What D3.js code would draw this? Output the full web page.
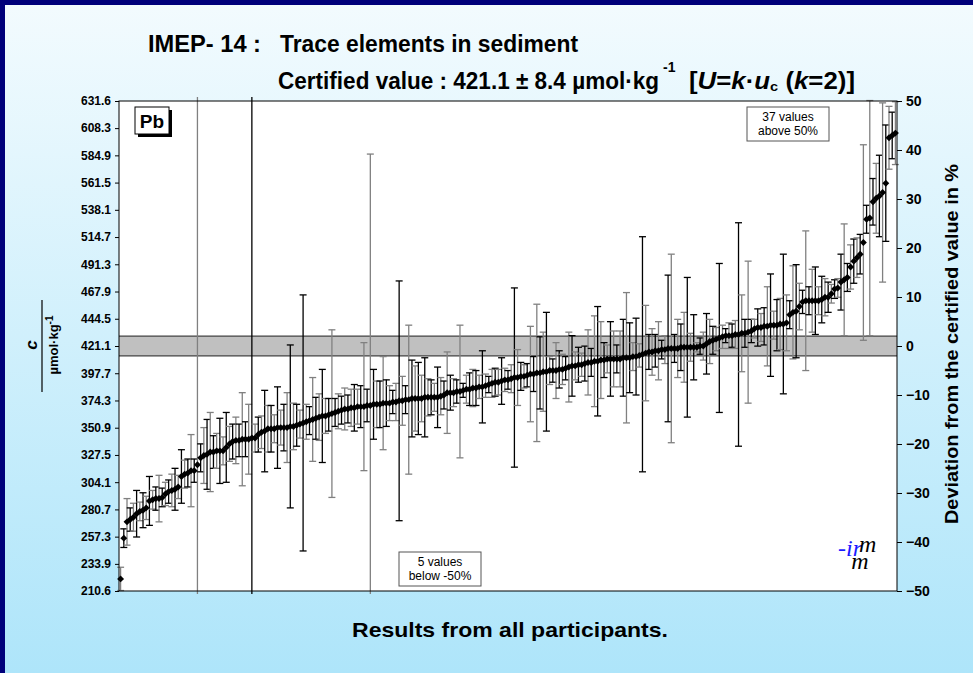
<!DOCTYPE html>
<html>
<head>
<meta charset="utf-8">
<script src="https://cdn.jsdelivr.net/npm/d3@7"></script>
<style>
  body { margin: 0; padding: 0; overflow: hidden; }
  text { font-family: "Liberation Sans", Arial, sans-serif; }
  .axis text { font-weight: bold; }
</style>
</head>
<body>
<div id="vis_container"></div>
<script>
// Certified value and expanded uncertainty
var certified = 421.1;
var certU = 8.4;

// Participant results (sorted), umol/kg
var results = [
  221, 256, 270, 272, 274, 277, 279, 280, 282, 288,
  289, 290, 290, 291, 294, 296, 297, 298, 300, 309,
  311, 312, 314, 314, 319, 325, 327, 328, 330, 330,
  331, 331, 331, 334, 337, 339, 340, 340, 341, 341,
  341, 342, 342, 345, 347, 348, 350, 350, 350, 351,
  351, 351, 351, 352, 352, 353, 354, 355, 356, 357,
  358, 359, 360, 361, 361, 362, 363, 364, 365, 366,
  367, 367, 368, 368, 369, 369, 369, 370, 370, 371,
  371, 371, 372, 372, 372, 373, 373, 374, 374, 375,
  375, 376, 376, 376, 376, 377, 377, 377, 377, 377,
  378, 379, 381, 381, 381, 382, 382, 383, 384, 384,
  385, 385, 386, 386, 387, 388, 389, 390, 390, 391,
  392, 392, 393, 394, 394, 395, 395, 396, 397, 397,
  398, 398, 399, 399, 400, 400, 400, 401, 401, 402,
  403, 404, 404, 405, 405, 406, 407, 407, 408, 408,
  409, 409, 410, 410, 410, 410, 410, 411, 411, 411,
  412, 412, 413, 414, 415, 416, 416, 417, 417, 418,
  418, 419, 419, 419, 419, 420, 420, 420, 420, 420,
  420, 421, 421, 423, 425, 426, 427, 428, 429, 430,
  430, 430, 431, 431, 432, 432, 433, 434, 436, 437,
  437, 438, 438, 439, 439, 439, 440, 440, 441, 448,
  450, 451, 455, 459, 460, 460, 460, 460, 460, 461,
  463, 463, 466, 470, 471, 476, 478, 480, 489, 494,
  497, 500, 510, 530, 531, 545, 548, 550, 553, 561,
  600, 602, 604
];

// Half width of each error bar, umol/kg
var uncert = [
  10, 8, 20, 10, 12, 20, 8, 15, 10, 21,
  8, 10, 20, 8, 10, 10, 14, 18, 10, 23,
  12, 12, 31, 10, 450, 12, 24, 30, 34, 14,
  15, 28, 12, 30, 15, 15, 20, 14, 40, 15,
  30, 450, 12, 15, 14, 35, 20, 20, 12, 35,
  15, 20, 30, 70, 20, 18, 12, 110, 15, 12,
  36, 18, 20, 40, 15, 14, 72, 12, 15, 12,
  18, 12, 16, 20, 15, 18, 55, 14, 216, 30,
  20, 20, 40, 20, 15, 10, 16, 103, 21, 12,
  64, 33, 28, 31, 20, 34, 16, 15, 12, 26,
  16, 12, 35, 15, 12, 10, 57, 6, 12, 14,
  16, 15, 10, 31, 10, 7, 12, 12, 11, 20,
  10, 8, 12, 77, 24, 12, 10, 10, 41, 15,
  59, 31, 34, 51, 12, 10, 24, 16, 13, 10,
  30, 26, 12, 15, 10, 15, 28, 12, 39, 47,
  33, 15, 12, 32, 24, 12, 24, 33, 56, 30,
  12, 33, 10, 101, 41, 15, 20, 14, 25, 8,
  12, 63, 81, 12, 25, 20, 30, 60, 12, 28,
  4, 7, 12, 26, 19, 12, 10, 64, 10, 6,
  11, 10, 12, 96, 33, 12, 61, 10, 8, 16,
  12, 16, 34, 44, 12, 22, 22, 60, 24, 12,
  40, 40, 20, 10, 60, 12, 27, 29, 12, 20,
  16, 13, 8, 8, 8, 24, 48, 12, 19, 19,
  17, 17, 84, 12, 101, 20, 30, 35, 77, 50,
  27, 20, 27
];

var leftTicks = ["631.6", "608.3", "584.9", "561.5", "538.1", "514.7", "491.3",
  "467.9", "444.5", "421.1", "397.7", "374.3", "350.9", "327.5", "304.1",
  "280.7", "257.3", "233.9", "210.6"];
var rightTicks = [50, 40, 30, 20, 10, 0, -10, -20, -30, -40, -50];

var width = 973, height = 673;
var plot = {left: 119, right: 897, top: 101, bottom: 591};

var svg = d3.select("#vis_container")
    .append("svg")
    .attr("width", width)
    .attr("height", height);

var defs = svg.append("defs");
var grad = defs.append("linearGradient")
    .attr("id", "bg")
    .attr("x1", 0).attr("y1", 0).attr("x2", 0).attr("y2", 1);
grad.append("stop").attr("offset", "0%").attr("stop-color", "#f3fbfe");
grad.append("stop").attr("offset", "100%").attr("stop-color", "#aee5fa");

defs.append("clipPath").attr("id", "plotclip")
  .append("rect")
    .attr("x", plot.left - 6).attr("y", plot.top - 4)
    .attr("width", plot.right - plot.left + 12)
    .attr("height", plot.bottom - plot.top + 7);

// background + frame
svg.append("rect")
    .attr("x", 0).attr("y", 0)
    .attr("width", width).attr("height", height)
    .attr("fill", "url(#bg)");
svg.append("rect")
    .attr("x", 2.5).attr("y", 2.5)
    .attr("width", width + 10).attr("height", height + 10)
    .attr("fill", "none")
    .attr("stroke", "#00007a")
    .attr("stroke-width", 5);

// scales
var y = d3.scaleLinear()
    .domain([210.6, 631.6])
    .range([plot.bottom, plot.top]);
var yPct = d3.scaleLinear()
    .domain([-50, 50])
    .range([plot.bottom, plot.top]);
var x = d3.scaleBand()
    .domain(d3.range(results.length))
    .range([plot.left, plot.right]);

// plot area
svg.append("rect")
    .attr("x", plot.left).attr("y", plot.top)
    .attr("width", plot.right - plot.left)
    .attr("height", plot.bottom - plot.top)
    .attr("fill", "white");

// certified value band
svg.append("rect")
    .attr("x", plot.left).attr("y", y(certified + certU))
    .attr("width", plot.right - plot.left)
    .attr("height", y(certified - certU) - y(certified + certU))
    .attr("fill", "#c0c0c0");
[certified + certU, certified - certU].forEach(function (v) {
  svg.append("line")
      .attr("x1", plot.left).attr("x2", plot.right)
      .attr("y1", y(v)).attr("y2", y(v))
      .attr("stroke", "#404040")
      .attr("stroke-width", 1.2);
});

// error bars, alternating grey / black
var bars = svg.append("g").attr("clip-path", "url(#plotclip)");
results.forEach(function (v, i) {
  var cx = x(i) + x.bandwidth() / 2;
  var col = (i % 2 === 0) ? "#808080" : "#000000";
  var top = y(v + uncert[i]), bot = y(v - uncert[i]);
  var g = bars.append("g")
      .attr("stroke", col)
      .attr("stroke-width", 1.3);
  g.append("line").attr("x1", cx).attr("x2", cx).attr("y1", top).attr("y2", bot);
  g.append("line").attr("x1", cx - 3.5).attr("x2", cx + 3.5).attr("y1", top).attr("y2", top);
  g.append("line").attr("x1", cx - 3.5).attr("x2", cx + 3.5).attr("y1", bot).attr("y2", bot);
});

// points
var diamond = d3.symbol().type(d3.symbolSquare).size(24);
svg.append("g")
    .attr("clip-path", "url(#plotclip)")
  .selectAll("path")
  .data(results)
  .enter()
  .append("path")
    .attr("d", diamond)
    .attr("transform", function (d, i) {
      return "translate(" + (x(i) + x.bandwidth() / 2) + "," + y(d) + ") rotate(45)";
    })
    .attr("fill", "black");

// plot border
svg.append("rect")
    .attr("x", plot.left).attr("y", plot.top)
    .attr("width", plot.right - plot.left)
    .attr("height", plot.bottom - plot.top)
    .attr("fill", "none")
    .attr("stroke", "#000")
    .attr("stroke-width", 1);

// axes
var leftAxis = svg.append("g")
    .attr("class", "axis")
    .attr("transform", "translate(" + plot.left + ",0)")
    .call(d3.axisLeft(y)
      .tickValues(leftTicks.map(Number))
      .tickFormat(function (d, i) { return leftTicks[i]; })
      .tickSizeOuter(0).tickSize(4).tickPadding(4));
leftAxis.selectAll("text").style("font-size", "12px").attr("fill", "#000");
leftAxis.select(".domain").remove();

var rightAxis = svg.append("g")
    .attr("class", "axis")
    .attr("transform", "translate(" + plot.right + ",0)")
    .call(d3.axisRight(yPct)
      .tickValues(rightTicks)
      .tickSizeOuter(0).tickSize(5).tickPadding(4));
rightAxis.selectAll("text").style("font-size", "14px").attr("fill", "#000");
rightAxis.select(".domain").remove();

// titles
svg.append("text")
    .attr("x", 148).attr("y", 52)
    .attr("textLength", 113).attr("lengthAdjust", "spacingAndGlyphs")
    .style("font-size", "23px").style("font-weight", "bold")
    .text("IMEP- 14 :");
svg.append("text")
    .attr("x", 280).attr("y", 52)
    .attr("textLength", 298).attr("lengthAdjust", "spacingAndGlyphs")
    .style("font-size", "23px").style("font-weight", "bold")
    .text("Trace elements in sediment");
svg.append("text")
    .attr("x", 278).attr("y", 89)
    .attr("textLength", 381).attr("lengthAdjust", "spacingAndGlyphs")
    .style("font-size", "23px").style("font-weight", "bold")
    .text("Certified value : 421.1 \u00b1 8.4 \u00b5mol\u00b7kg");
svg.append("text")
    .attr("x", 663).attr("y", 72)
    .style("font-size", "14px").style("font-weight", "bold")
    .text("-1");
var t2 = svg.append("text")
    .attr("x", 689).attr("y", 89)
    .attr("textLength", 166).attr("lengthAdjust", "spacingAndGlyphs")
    .style("font-size", "23px").style("font-weight", "bold");
t2.append("tspan").text("[");
t2.append("tspan").style("font-style", "italic").text("U");
t2.append("tspan").text("=");
t2.append("tspan").style("font-style", "italic").text("k");
t2.append("tspan").text("\u00b7");
t2.append("tspan").style("font-style", "italic").text("u");
t2.append("tspan").attr("dy", 2).style("font-size", "13px").text("c");
t2.append("tspan").attr("dy", -2).text(" (");
t2.append("tspan").style("font-style", "italic").text("k");
t2.append("tspan").text("=2)]");

// axis titles
svg.append("text")
    .attr("x", 352).attr("y", 637)
    .attr("textLength", 316).attr("lengthAdjust", "spacingAndGlyphs")
    .style("font-size", "21px").style("font-weight", "bold")
    .text("Results from all participants.");

svg.append("text")
    .attr("transform", "translate(958,524) rotate(-90)")
    .attr("textLength", 360).attr("lengthAdjust", "spacingAndGlyphs")
    .style("font-size", "18px").style("font-weight", "bold")
    .text("Deviation from the certified value in %");

svg.append("text")
    .attr("transform", "translate(37,345) rotate(-90)")
    .style("text-anchor", "middle")
    .style("font-size", "17px").style("font-weight", "bold").style("font-style", "italic")
    .text("c");
svg.append("line")
    .attr("x1", 42).attr("x2", 42).attr("y1", 300).attr("y2", 392)
    .attr("stroke", "#000").attr("stroke-width", 1.2);
var ul = svg.append("text")
    .attr("transform", "translate(58,345) rotate(-90)")
    .style("text-anchor", "middle")
    .style("font-size", "13px").style("font-weight", "bold");
ul.append("tspan").text("\u00b5mol\u00b7kg");
ul.append("tspan").attr("dy", -5).style("font-size", "10px").text("-1");

// element label
svg.append("rect")
    .attr("x", 138).attr("y", 110).attr("width", 34).attr("height", 27)
    .attr("fill", "black");
svg.append("rect")
    .attr("x", 135).attr("y", 107).attr("width", 34).attr("height", 27)
    .attr("fill", "white").attr("stroke", "#000").attr("stroke-width", 1);
svg.append("text")
    .attr("x", 152).attr("y", 128)
    .style("text-anchor", "middle")
    .style("font-size", "19px").style("font-weight", "bold")
    .text("Pb");

// out of range notes
function noteBox(cx, top, lines) {
  svg.append("rect")
      .attr("x", cx - 41).attr("y", top).attr("width", 82).attr("height", 34)
      .attr("fill", "white").attr("stroke", "#555").attr("stroke-width", 1);
  lines.forEach(function (s, k) {
    svg.append("text")
        .attr("x", cx).attr("y", top + 14 + k * 14)
        .style("text-anchor", "middle")
        .style("font-size", "12px")
        .text(s);
  });
}
noteBox(788, 107, ["37 values", "above 50%"]);
noteBox(440, 552, ["5 values", "below -50%"]);

// irm logo (one text, stacked letters)
var logo = svg.append("text")
    .attr("x", 838).attr("y", 556)
    .style("font-family", "'Liberation Serif', serif")
    .style("font-style", "italic").style("font-size", "24px");
logo.append("tspan").attr("fill", "#1a1aff").text("-ir");
logo.append("tspan").attr("fill", "#000").attr("dx", -3).attr("dy", -4).text("m");
logo.append("tspan").attr("fill", "#000").attr("dx", -25).attr("dy", 17).text("m");
</script>
</body>
</html>
